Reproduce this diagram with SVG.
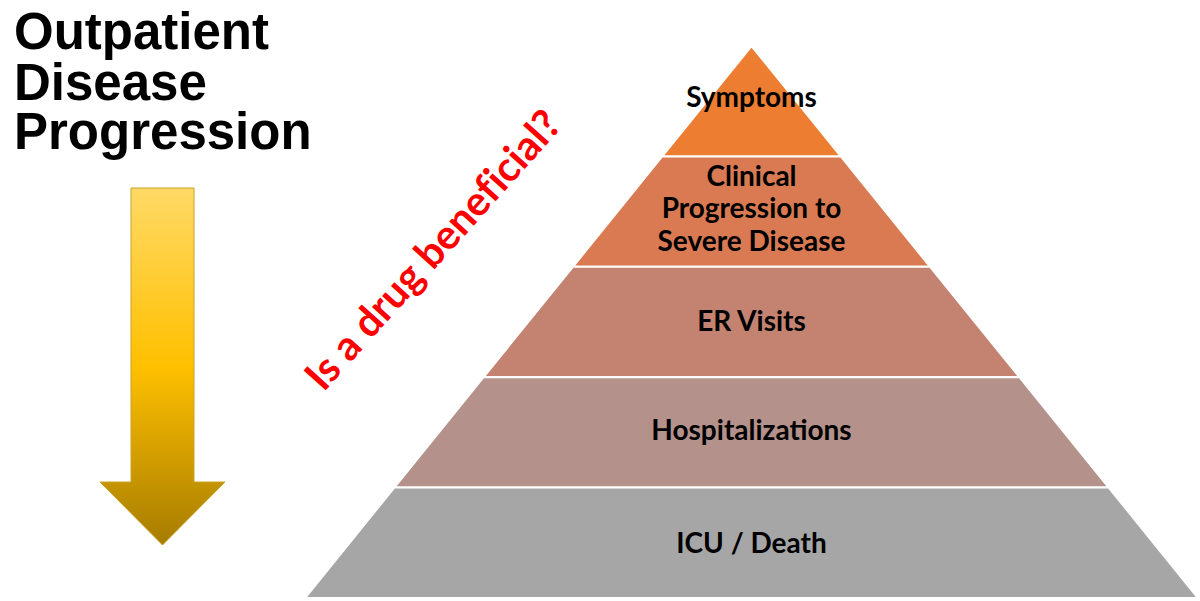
<svg xmlns="http://www.w3.org/2000/svg" width="1200" height="601" viewBox="0 0 1200 601">
<defs>
<linearGradient id="gold" x1="0" y1="0" x2="0" y2="1">
<stop offset="0" stop-color="#FFD966"/>
<stop offset="0.5" stop-color="#FFC000"/>
<stop offset="1" stop-color="#A67C00"/>
</linearGradient>
<style>
.title{font-family:"Liberation Sans",Arial,sans-serif;font-weight:bold;font-size:51px;fill:#000}
.lbl{font-family:Lato,"Open Sans",sans-serif;font-weight:bold;font-size:28px;fill:#000;text-anchor:middle}
.layer{stroke:#fff;stroke-width:2}
.q{font-family:Lato,"Open Sans",sans-serif;font-weight:bold;font-size:41px;fill:#FF0000;text-anchor:middle;font-variant-ligatures:none}
</style>
</defs>
<rect width="1200" height="601" fill="#fff"/>
<g id="title">
<text class="title" x="14" y="49">Outpatient</text>
<text class="title" x="14" y="100">Disease</text>
<text class="title" x="14" y="149">Progression</text>
</g>
<g id="arrow">
<polygon points="131,188 194,188 194,482 225,482 162.5,545 100,482 131,482" fill="url(#gold)" stroke="#C9A227" stroke-width="1"/>
</g>
<g id="question">
<text class="q" transform="translate(433,250) rotate(-48)" y="14">Is a drug beneficial?</text>
</g>
<g id="layer-symptoms">
<polygon class="layer" points="751.5,46 840.8,156.4 662.2,156.4" fill="#ED7D31"/>
<text class="lbl" x="751.5" y="107">Symptoms</text>
</g>
<g id="layer-clinical">
<polygon class="layer" points="662.2,156.4 840.8,156.4 930.1,266.8 572.9,266.8" fill="#D97A52"/>
<text class="lbl" x="751.5" y="186">Clinical</text>
<text class="lbl" x="751.5" y="218">Progression to</text>
<text class="lbl" x="751.5" y="251">Severe Disease</text>
</g>
<g id="layer-er">
<polygon class="layer" points="572.9,266.8 930.1,266.8 1019.4,377.2 483.6,377.2" fill="#C48271"/>
<text class="lbl" x="751.5" y="331">ER Visits</text>
</g>
<g id="layer-hosp">
<polygon class="layer" points="483.6,377.2 1019.4,377.2 1108.7,487.6 394.3,487.6" fill="#B4918A"/>
<text class="lbl" x="751.5" y="440">Hospitalizations</text>
</g>
<g id="layer-icu">
<polygon class="layer" points="394.3,487.6 1108.7,487.6 1198,598 305,598" fill="#A6A6A6"/>
<text class="lbl" x="751.5" y="553">ICU / Death</text>
</g>
</svg>
